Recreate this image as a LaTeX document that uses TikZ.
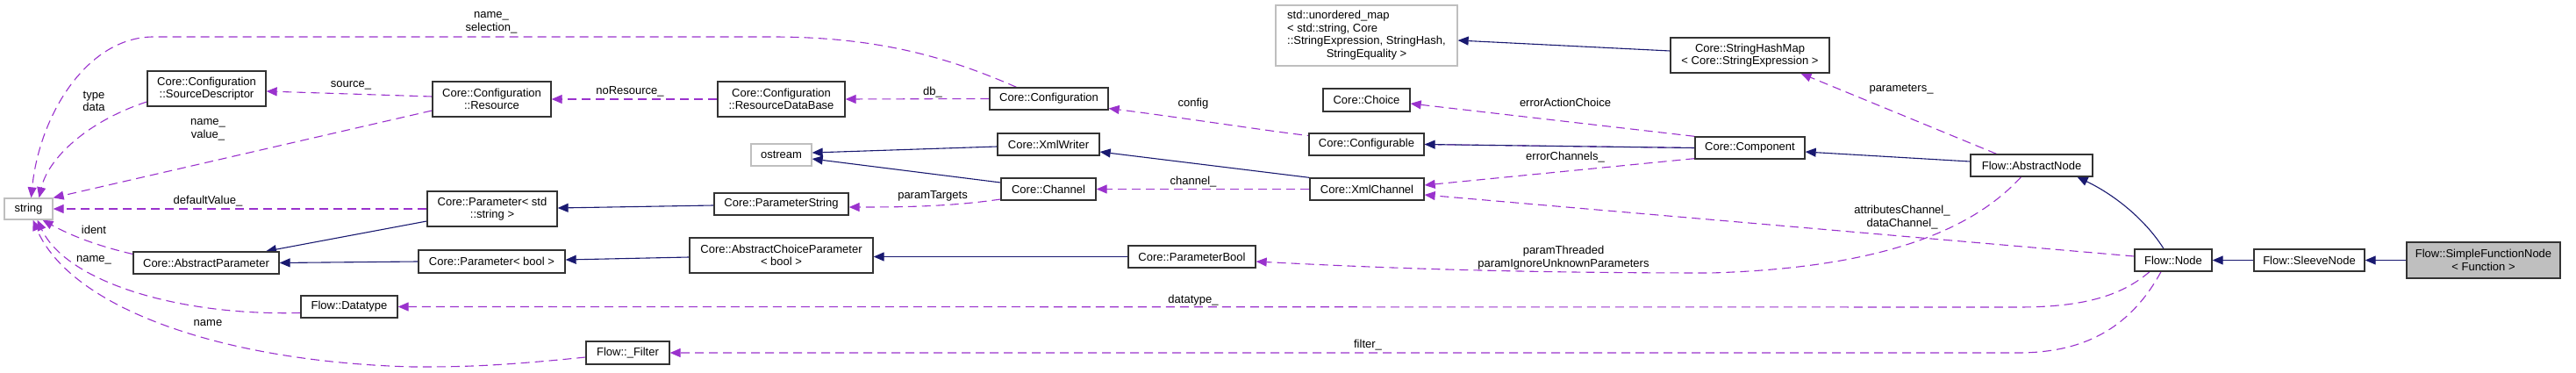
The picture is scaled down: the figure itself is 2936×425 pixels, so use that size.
\documentclass[tikz,border=0pt]{standalone}
\usepackage{fontspec}
\setmainfont{Liberation Sans}
\usetikzlibrary{arrows.meta,calc,backgrounds}
\definecolor{inhc}{HTML}{191970}
\definecolor{usec}{HTML}{9A32CD}
\definecolor{boxgray}{HTML}{BFBFBF}
\tikzset{
  cls/.style={draw=black!80, line width=1.3pt, fill=white, inner sep=0pt, font=\fontsize{13}{14.5}\selectfont, align=center},
  ext/.style={cls, draw=boxgray},
  me/.style={cls, fill=boxgray},
  inh/.style={draw=inhc, line width=1.1pt, -{Triangle[length=12pt,width=10pt]}},
  use/.style={draw=usec, line width=1.1pt, dash pattern=on 10pt off 6pt, -{Triangle[length=12pt,width=10pt]}},
  lbl/.style={font=\fontsize{13}{14.5}\selectfont, align=center, inner sep=0pt},
}
\begin{document}
\begin{tikzpicture}[x=1pt,y=-1pt]
\useasboundingbox (0,0) rectangle (2936,425);
% nodes
\node[ext, minimum width=55pt, minimum height=24pt] (str) at (32.5,238) {string};
\node[cls, minimum width=135pt, minimum height=40pt] (srcdesc) at (235.5,101) {Core::Configuration\\::SourceDescriptor};
\node[cls, minimum width=166pt, minimum height=25pt] (absparam) at (235,299.5) {Core::AbstractParameter};
\node[cls, minimum width=110pt, minimum height=25pt] (datatype) at (398,349.5) {Flow::Datatype};
\node[cls, minimum width=135pt, minimum height=40pt] (resource) at (560.5,113) {Core::Configuration\\::Resource};
\node[cls, minimum width=145pt, minimum height=40pt] (resdb) at (890.5,113) {Core::Configuration\\::ResourceDataBase};
\node[ext, minimum width=69pt, minimum height=25pt] (ostream) at (890.5,176.5) {ostream};
\node[cls, minimum width=148pt, minimum height=40pt] (paramstr) at (561,238) {Core::Parameter< std\\::string >};
\node[cls, minimum width=153pt, minimum height=25pt] (paramstring) at (890.5,232.5) {Core::ParameterString};
\node[cls, minimum width=167pt, minimum height=26pt] (parambool) at (560.5,298) {Core::Parameter< bool >};
\node[cls, minimum width=209pt, minimum height=40pt] (abschoice) at (890.5,291) {Core::AbstractChoiceParameter\\< bool >};
\node[cls, minimum width=95pt, minimum height=26pt] (filter) at (715.5,402) {Flow::\_Filter};
\node[cls, minimum width=135pt, minimum height=25pt] (config) at (1195.5,112.5) {Core::Configuration};
\node[cls, minimum width=116pt, minimum height=25pt] (xmlwriter) at (1195,164.5) {Core::XmlWriter};
\node[cls, minimum width=108pt, minimum height=25pt] (channel) at (1195,215.5) {Core::Channel};
\node[cls, minimum width=145pt, minimum height=25pt] (pbool) at (1358.5,292.5) {Core::ParameterBool};
\node[ext, minimum width=207pt, minimum height=69pt] (umap) at (1557.5,40.5) {\begin{tabular}{@{}l@{}}std::unordered\_map\\< std::string, Core\\::StringExpression, StringHash,\\\multicolumn{1}{@{}c@{}}{StringEquality >}\end{tabular}};
\node[cls, minimum width=99pt, minimum height=26pt] (choice) at (1557.5,114) {Core::Choice};
\node[cls, minimum width=131pt, minimum height=25pt] (configurable) at (1557.5,164.5) {Core::Configurable};
\node[cls, minimum width=130pt, minimum height=25pt] (xmlchannel) at (1558,215.5) {Core::XmlChannel};
\node[cls, minimum width=181pt, minimum height=40pt] (shm) at (1994.5,63) {Core::StringHashMap\\< Core::StringExpression >};
\node[cls, minimum width=125pt, minimum height=25pt] (component) at (1994.5,168.5) {Core::Component};
\node[cls, minimum width=139pt, minimum height=25pt] (absnode) at (2315.5,188.5) {Flow::AbstractNode};
\node[cls, minimum width=88pt, minimum height=25pt] (node) at (2477,296.5) {Flow::Node};
\node[cls, minimum width=126pt, minimum height=25pt] (sleeve) at (2632,296.5) {Flow::SleeveNode};
\node[me, minimum width=175pt, minimum height=41pt] (sfn) at (2830.5,296.5) {Flow::SimpleFunctionNode\\< Function >};
% labels
\node[lbl] (l1) at (107,115.5) {type\\data};
\node[lbl] (l2) at (560,26) {name\_\\selection\_};
\node[lbl] (l3) at (237,148) {name\_\\value\_};
\node[lbl] (l4) at (237,229) {defaultValue\_};
\node[lbl] (l5) at (107,262) {ident};
\node[lbl] (l6) at (107,296) {name\_};
\node[lbl] (l7) at (237,368) {name};
\node[lbl] (l8) at (400,97) {source\_};
\node[lbl] (l9) at (718,104) {noResource\_};
\node[lbl] (l10) at (1063,105) {db\_};
\node[lbl] (l11) at (1360,118) {config};
\node[lbl] (l12) at (1360,207) {channel\_};
\node[lbl] (l13) at (1063,223) {paramTargets};
\node[lbl] (l14) at (1360,342) {datatype\_};
\node[lbl] (l15) at (1784,117) {errorActionChoice};
\node[lbl] (l16) at (1784,179) {errorChannels\_};
\node[lbl] (l17) at (1782,293.5) {paramThreaded\\paramIgnoreUnknownParameters};
\node[lbl] (l18) at (1559,393) {filter\_};
\node[lbl] (l19) at (2167,102) {parameters\_};
\node[lbl] (l20) at (2168,247.5) {attributesChannel\_\\dataChannel\_};
\begin{scope}[on background layer]
% usage edges
\draw[use] ($(srcdesc.west)+(0,15)$) .. controls (100,138) and (55,180) .. ($(str.north)+(12,0)$);
\draw[use] ($(config.north)+(-37,0)$) .. controls (1080,65) and (1000,42) .. (880,42) -- (175,42) .. controls (100,42) and (45,130) .. ($(str.north)+(3,0)$);
\draw[use] ($(resource.west)+(0,13)$) -- (str.north east);
\draw[use] (paramstr.west) -- (str.east);
\draw[use] ($(absparam.west)+(0,-10)$) .. controls (110,280) and (80,268) .. ($(str.south)+(16,0)$);
\draw[use] ($(datatype.west)+(0,7)$) .. controls (200,360) and (75,320) .. ($(str.south)+(10,0)$);
\draw[use] ($(filter.west)+(0,5)$) .. controls (560,418) and (520,418) .. (470,418) .. controls (250,412) and (80,350) .. ($(str.south)+(5,0)$);
\draw[use] ($(resource.west)+(0,-3)$) -- ($(srcdesc.east)+(0,3)$);
\draw[use] (resdb.west) -- (resource.east);
\draw[use] (config.west) -- (resdb.east);
\draw[use] (component.west) -- (configurable.east) -- ($(configurable.west)+(0,-10)$) .. controls (1450,150) and (1340,133) .. ($(config.east)+(0,11)$);
\draw[use] (component.north west) -- ($(choice.east)+(0,4)$);
\draw[use] ($(component.south west)+(0,-1)$) -- ($(xmlchannel.east)+(0,-4.5)$);
\draw[use] ($(node.west)+(0,-4.5)$) -- ($(xmlchannel.east)+(0,6.5)$);
\draw[use] (xmlchannel.west) -- (channel.east);
\draw[use] ($(channel.west)+(0,11.5)$) .. controls (1080,236) and (1020,236) .. ($(paramstring.east)+(0,3.5)$);
\draw[use] ($(absnode.north)+(-40,0)$) -- ($(shm.south)+(58,0)$);
\draw[use] ($(absnode.south)+(-12,0)$) .. controls (2250,260) and (2150,305) .. (1950,311) .. controls (1700,311) and (1550,304) .. ($(pbool.east)+(0,5.5)$);
\draw[use] ($(node.south)+(-27,0)$) .. controls (2420,335) and (2380,350) .. (2300,350) -- (datatype.east);
\draw[use] ($(node.south)+(-14,0)$) .. controls (2430,370) and (2380,402) .. (2300,402) -- (filter.east);
% inheritance edges
\draw[inh] ($(xmlwriter.west)+(0,2.5)$) -- ($(ostream.east)+(0,-2.5)$);
\draw[inh] ($(channel.west)+(0,-7.5)$) -- ($(ostream.east)+(0,4.5)$);
\draw[inh] (xmlchannel.north west) -- ($(xmlwriter.east)+(0,8.5)$);
\draw[inh] (component.west) -- (configurable.east);
\draw[inh] ($(absnode.west)+(0,-4.5)$) -- ($(component.east)+(0,4.5)$);
\draw[inh] ($(node.north)+(-11,0)$) .. controls (2445,250) and (2410,222) .. ($(absnode.south)+(52,0)$);
\draw[inh] (sleeve.west) -- (node.east);
\draw[inh] (sfn.west) -- (sleeve.east);
\draw[inh] ($(shm.west)+(0,-5)$) -- ($(umap.east)+(0,5.5)$);
\draw[inh] ($(paramstr.west)+(0,14)$) -- ($(absparam.north)+(68,0)$);
\draw[inh] (parambool.west) -- (absparam.east);
\draw[inh] ($(paramstring.west)+(0,1.5)$) -- ($(paramstr.east)+(0,-1)$);
\draw[inh] ($(abschoice.west)+(0,2)$) -- ($(parambool.east)+(0,-2)$);
\draw[inh] (pbool.west) -- ($(abschoice.east)+(0,1.5)$);
\end{scope}
\end{tikzpicture}
\end{document}
